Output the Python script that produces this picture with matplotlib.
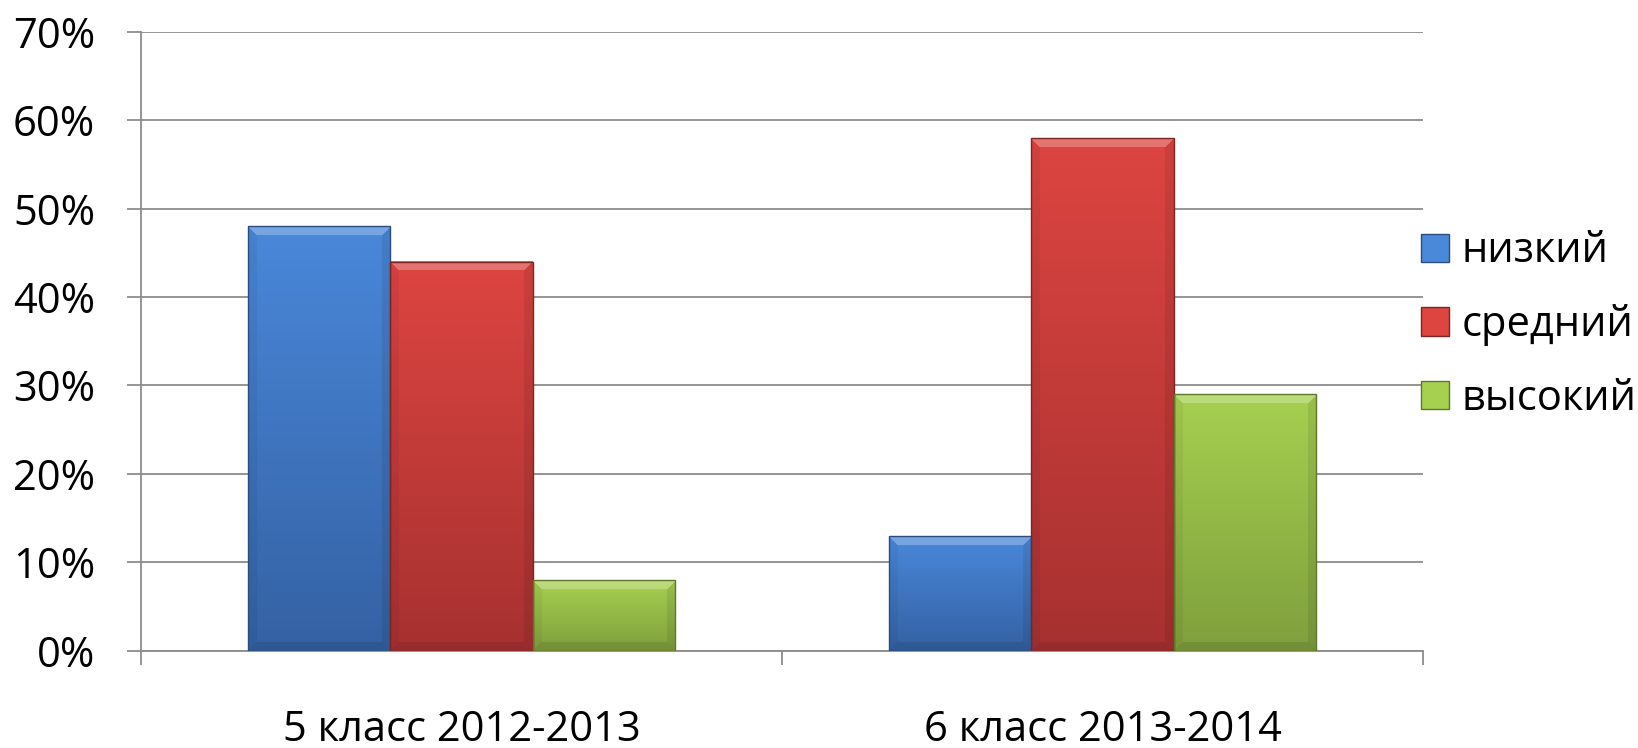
import matplotlib.pyplot as plt
import numpy as np
from matplotlib.colors import to_rgb
from matplotlib.patches import Patch

plt.rcParams['font.family'] = ['Open Sans', 'DejaVu Sans']

categories = ['5 класс 2012-2013', '6 класс 2013-2014']
series = ['низкий', 'средний', 'высокий']
low = [0.48, 0.13]
mid = [0.44, 0.58]
high = [0.08, 0.29]
yticks = [0.0, 0.1, 0.2, 0.3, 0.4, 0.5, 0.6, 0.7]

top_colors = ['#4a88da', '#dd4541', '#a6d050']
bottom_colors = ['#3461a3', '#a63130', '#7f9f3d']
edge_colors = ['#2b4c7c', '#7c2523', '#5d7829']


def bevel(top, bottom, wpx, hpx, b=9):
    # vertical gradient with a soft bevelled rim
    wpx, hpx = max(int(wpx), 2), max(int(hpx), 2)
    t = np.linspace(0, 1, hpx)[:, None, None]
    img = (1 - t) * np.array(to_rgb(top)) + t * np.array(to_rgb(bottom))
    img = np.repeat(img, wpx, axis=1)
    yy, xx = np.mgrid[0:hpx, 0:wpx]
    d = np.stack([yy, hpx - 1 - yy, xx, wpx - 1 - xx])
    side = d.argmin(axis=0)
    near = d.min(axis=0) < b
    out = img.copy()
    m = near & (side == 0)
    out[m] = img[m] * 0.75 + 0.25
    m = near & (side == 1)
    out[m] = img[m] * 0.9
    m = near & (side == 2)
    out[m] = img[m] * 0.95
    m = near & (side == 3)
    out[m] = img[m] * 0.92
    return out


fig = plt.figure(figsize=(16.38, 7.48), dpi=100)
ax = fig.add_axes([141 / 1638, 1 - 650.7 / 748, (1423 - 141) / 1638, (650.7 - 31.7) / 748])

x = np.arange(len(categories))
w = 1 / 4.5
ax.set_xlim(-0.5, 1.5)
ax.set_ylim(0, 0.7)

values = [low, mid, high]
for i, vals in enumerate(values):
    bars = ax.bar(x + (i - 1) * w, vals, w, color='none', edgecolor=edge_colors[i],
                  linewidth=1, zorder=4, label=series[i])
    for p in bars:
        x0, y0 = p.get_x(), p.get_y()
        x1, y1 = x0 + p.get_width(), y0 + p.get_height()
        (px0, py0), (px1, py1) = ax.transData.transform([(x0, y0), (x1, y1)])
        img = bevel(top_colors[i], bottom_colors[i], px1 - px0, py1 - py0)
        ax.imshow(img, extent=[x0, x1, y0, y1], aspect='auto', origin='upper',
                  zorder=3, interpolation='bilinear')

ax.set_xlim(-0.5, 1.5)
ax.set_ylim(0, 0.7)

ax.set_yticks(yticks)
ax.set_yticklabels([f'{int(round(v * 100))}%' for v in yticks])
ax.set_xticks([-0.5, 0.5, 1.5])
ax.set_xticklabels([])
ax.set_xticks(x, minor=True)
ax.set_xticklabels(categories, minor=True)

grid_c = '#8c8c8c'
ax.yaxis.grid(True, color=grid_c, linewidth=1.3)
ax.set_axisbelow(True)
for s in ['top', 'right']:
    ax.spines[s].set_visible(False)
for s in ['left', 'bottom']:
    ax.spines[s].set_color(grid_c)
    ax.spines[s].set_linewidth(1.3)

ax.tick_params(axis='y', length=10, width=1.3, color=grid_c, labelsize=30, pad=23)
ax.tick_params(axis='x', which='major', length=10, width=1.3, color=grid_c)
ax.tick_params(axis='x', which='minor', length=0, labelsize=30, pad=42)

handles = [Patch(facecolor=top_colors[i], edgecolor=edge_colors[i]) for i in range(3)]
fig.legend(handles, series, loc='center left', bbox_to_anchor=(1421 / 1638, 1 - 325 / 748),
           frameon=False, fontsize=30, handlelength=0.67, handleheight=0.67,
           handletextpad=0.3, labelspacing=0.76, borderpad=0, borderaxespad=0)

fig.savefig('out.png', dpi=100)
